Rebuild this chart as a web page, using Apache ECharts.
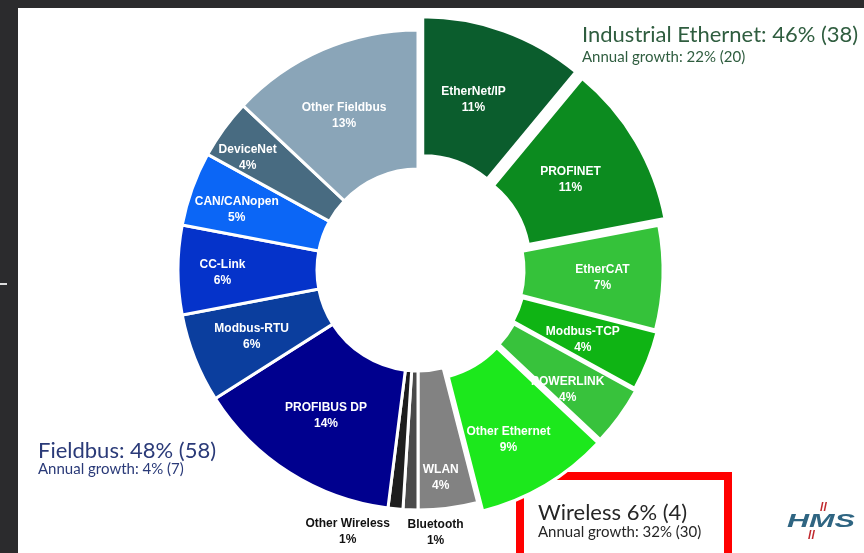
<!DOCTYPE html>
<html><head><meta charset="utf-8">
<script src="https://cdn.jsdelivr.net/npm/echarts@6/dist/echarts.min.js"></script>
<style>html,body{margin:0;padding:0;background:#fff;} #c{width:864px;height:553px;}</style>
</head><body><div id="c"></div>
<script>
// ---- data ----
const protocols = ['EtherNet/IP','PROFINET','EtherCAT','Modbus-TCP','POWERLINK','Other Ethernet',
                   'WLAN','Bluetooth','Other Wireless',
                   'PROFIBUS DP','Modbus-RTU','CC-Link','CAN/CANopen','DeviceNet','Other Fieldbus'];
const shares = [11,11,7,4,4,9, 4,1,1, 14,6,6,5,4,13];
const protocolGroup = ['eth','eth','eth','eth','eth','eth','wl','wl','wl','fb','fb','fb','fb','fb','fb'];
const groupNames = ['Industrial Ethernet','Fieldbus','Wireless'];
const groupShare = [46,48,6];
const groupPrev = [38,58,4];
const growth = [22,4,32];
const growthPrev = [20,7,30];

// ---- styles ----
const colors = ['#0b5d2d','#0c8b1f','#35c23a','#0fb414','#38c23c','#1ce81c',
                '#828282','#4a4a4a','#1e1e1e',
                '#00008e','#0b3e9e','#0533ca','#0b66f6','#486b81','#8aa5b8'];
// slice explosion (px) per protocol; 0 = not exploded
const explode = {'EtherNet/IP':14,'PROFINET':13,'EtherCAT':5,'Modbus-TCP':7,'POWERLINK':9,'Other Ethernet':10};
const outsideLabels = {'Bluetooth':[23,89],'Other Wireless':[-54,89]};
const labelNudge = {'Other Fieldbus':[-5,5],'DeviceNet':[-30,-10],'CAN/CANopen':[-18,-2],'CC-Link':[-22,3],
  'Modbus-RTU':[-5,3],'PROFIBUS DP':[1,-1],'WLAN':[1,36],'Other Ethernet':[-3,12],'POWERLINK':[2,12],
  'Modbus-TCP':[-3,3],'EtherCAT':[6,2],'PROFINET':[-8,5],'EtherNet/IP':[-8,6]};

const chart = echarts.init(document.getElementById('c'), null, {renderer:'canvas'});

const offsetOf = n => explode[n] || 0;
const offsets = [...new Set(protocols.map(offsetOf))];

const series = offsets.map(off => ({
  type:'pie', center:[418,270], radius:[101,240], startAngle:90, clockwise:true,
  selectedMode:'multiple', selectedOffset:off, silent:true,
  label:{show:true, position:'inside', color:'#ffffff', fontFamily:'Liberation Sans', fontWeight:'bold',
         fontSize:12, lineHeight:16, formatter:'{b}\n{c}%'},
  labelLine:{show:false},
  labelLayout:function(p){
    const n = protocols[p.dataIndex];
    const o = outsideLabels[n] || labelNudge[n];
    if (o) return {dx:o[0], dy:o[1]};
    return {};
  },
  data: protocols.map((n,i)=>{
    const mine = offsetOf(n) === off;
    if (!mine) return {name:n, value:shares[i], itemStyle:{color:'rgba(0,0,0,0)', borderWidth:0}, label:{show:false}};
    const st = {color:colors[i], borderColor:'#ffffff', borderWidth:3};
    const d = {name:n, value:shares[i], selected: off>0, itemStyle:st, select:{itemStyle:st}};
    if (outsideLabels[n]) d.label = {color:'#111'};
    return d;
  })
}));

const gColors = ['#2f5d3f','#2a3a78','#262626'];
const gPos = [[582,35,57],[38,451,469],[538,513,532]];
const graphics = [
  {type:'rect', shape:{x:0,y:0,width:864,height:8}, style:{fill:'#2b2b2d'}, silent:true},
  {type:'rect', shape:{x:0,y:0,width:18,height:553}, style:{fill:'#2b2b2d'}, silent:true},
  {type:'rect', shape:{x:0,y:283,width:7,height:2}, style:{fill:'#dddddd'}, silent:true},
  {type:'rect', shape:{x:520,y:476,width:208,height:90}, style:{fill:'none', stroke:'#ff0000', lineWidth:8}, silent:true},
  {type:'text', x:787, y:522, scaleX:1.7, style:{text:'HMS', fontFamily:'Liberation Sans', fontWeight:'bold', fontStyle:'italic', fontSize:18, fill:'#2f6582', verticalAlign:'middle'}},
  {type:'text', x:820, y:507, style:{text:'//', fontFamily:'Liberation Sans', fontWeight:'bold', fontSize:13, fill:'#c0282d', verticalAlign:'middle'}},
  {type:'text', x:808, y:535, style:{text:'//', fontFamily:'Liberation Sans', fontWeight:'bold', fontSize:13, fill:'#c0282d', verticalAlign:'middle'}}
];
groupNames.forEach((g,i)=>{
  const sep = i===2 ? ' ' : ': ';
  graphics.push({type:'text', x:gPos[i][0], y:gPos[i][1], style:{text:g+sep+groupShare[i]+'% ('+groupPrev[i]+')', fontFamily:'Lato', fontSize:22, fill:gColors[i], verticalAlign:'middle'}});
  graphics.push({type:'text', x:gPos[i][0], y:gPos[i][2], style:{text:'Annual growth: '+growth[i]+'% ('+growthPrev[i]+')', fontFamily:'Lato', fontSize:15, fill:gColors[i], verticalAlign:'middle'}});
});

chart.setOption({
  backgroundColor:'#ffffff',
  animation:false,
  graphic: graphics,
  series: series
});
</script></body></html>
